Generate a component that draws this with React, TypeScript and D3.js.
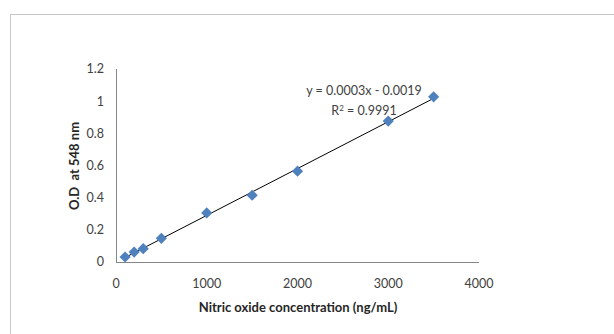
import React from "react";
import * as d3 from "d3";

const concentrations = [100, 200, 300, 500, 1000, 1500, 2000, 3000, 3500];
const odValues = [0.031, 0.062, 0.083, 0.147, 0.305, 0.415, 0.565, 0.876, 1.027];
const xTicks = [0, 1000, 2000, 3000, 4000];
const yTicks = [0, 0.2, 0.4, 0.6, 0.8, 1, 1.2];
const equationText = "y = 0.0003x - 0.0019";
const r2Value = "0.9991";
const xTitle = "Nitric oxide concentration (ng/mL)";
const yTitle = "O.D  at 548 nm";

export default function App() {
  const W = 614, H = 334;
  const x = d3.scaleLinear().domain([0, 4000]).range([116, 479]);
  const y = d3.scaleLinear().domain([0, 1.2]).range([262, 69]);

  const n = concentrations.length;
  const mx = d3.mean(concentrations)!;
  const my = d3.mean(odValues)!;
  let sxy = 0, sxx = 0;
  for (let i = 0; i < n; i++) {
    sxy += (concentrations[i] - mx) * (odValues[i] - my);
    sxx += (concentrations[i] - mx) ** 2;
  }
  const slope = sxy / sxx;
  const intercept = my - slope * mx;
  const x0 = d3.min(concentrations)!, x1 = d3.max(concentrations)!;
  const line = d3.line<number>().x((d) => x(d)).y((d) => y(slope * d + intercept));

  const diamond = d3.symbol().type(d3.symbolDiamond2).size(80)()!;
  const font = "Lato, 'Open Sans', sans-serif";
  const tickSize = 12.5;

  return (
    <svg width={W} height={H} style={{ position: "absolute", left: 0, top: 0, background: "#fff" }}>
      <rect x={10.5} y={14.5} width={W} height={H} fill="#fff" stroke="#c8c8c8" strokeWidth={1} />
      <line x1={116.5} x2={116.5} y1={y(1.2)} y2={y(0)} stroke="#868686" />
      <line x1={116} x2={479} y1={y(0) + 0.5} y2={y(0) + 0.5} stroke="#868686" />
      {yTicks.map((t) => (
        <text key={t} x={104} y={y(t)} dy="0.35em" textAnchor="end" fontFamily={font} fontSize={tickSize} fill="#404040">
          {String(t)}
        </text>
      ))}
      {xTicks.map((t) => (
        <text key={t} x={x(t)} y={284} dy="0.35em" textAnchor="middle" fontFamily={font} fontSize={tickSize} fill="#404040">
          {String(t)}
        </text>
      ))}
      <path d={line([x0, x1])!} stroke="#000" strokeWidth={1} fill="none" />
      {concentrations.map((c, i) => (
        <path key={c} d={diamond} transform={`translate(${x(c)},${y(odValues[i])})`} fill="#4F81BD" />
      ))}
      <text x={364} y={91} dy="0.35em" textAnchor="middle" fontFamily={font} fontSize={12.5} fill="#404040">
        {equationText}
      </text>
      <text x={364} y={111} dy="0.35em" textAnchor="middle" fontFamily={font} fontSize={12.5} fill="#404040">
        R<tspan dy="-4" fontSize={8}>2</tspan><tspan dy="4"> = {r2Value}</tspan>
      </text>
      <text x={298} y={307} dy="0.35em" textAnchor="middle" fontFamily={font} fontSize={13} fontWeight="bold" fill="#262626">
        {xTitle}
      </text>
      <text transform={`translate(74,166) rotate(-90)`} dy="0.35em" textAnchor="middle" fontFamily={font} fontSize={13} fontWeight="bold" fill="#262626" style={{ whiteSpace: "pre" }}>
        {yTitle}
      </text>
    </svg>
  );
}
